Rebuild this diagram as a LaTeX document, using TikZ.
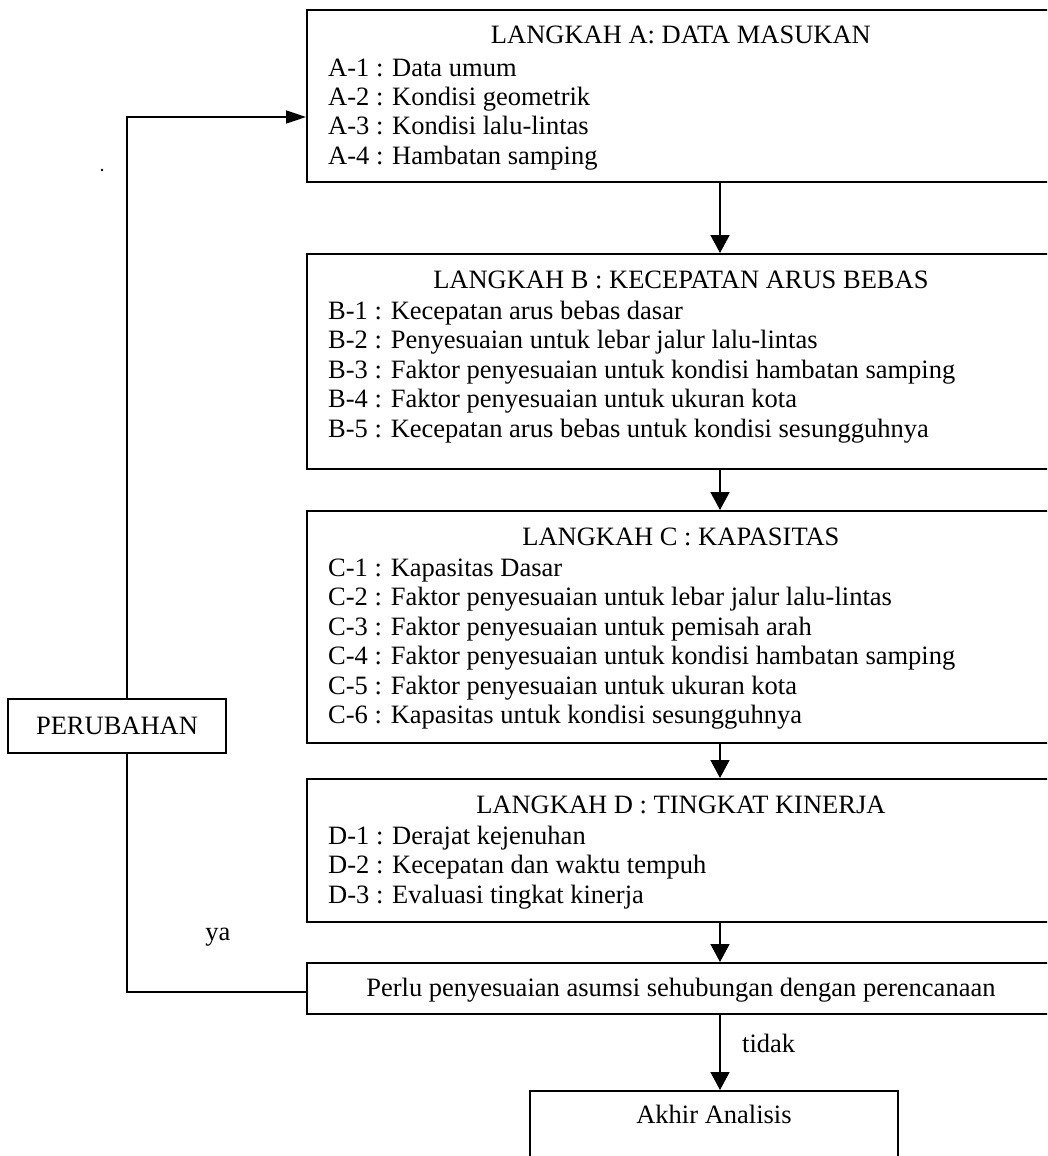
\documentclass[tikz,border=0pt]{standalone}
\usepackage{fontspec}
\setmainfont{Liberation Serif}
\usetikzlibrary{arrows.meta}
\begin{document}
\begin{tikzpicture}[x=1pt,y=-1pt,
  font=\fontsize{26.5}{29.5}\selectfont,
  stepbox/.style={draw, line width=1.8pt, anchor=north west, minimum width=748pt, inner sep=0pt},
  plainbox/.style={draw, line width=1.8pt, inner sep=0pt},
  heading/.style={anchor=base, inner sep=0pt},
  entry/.style={anchor=base west, inner sep=0pt},
  flow/.style={line width=1.6pt, -{Triangle[width=19pt,length=18pt]}},
  feedback/.style={line width=1.6pt, -{Triangle[width=13pt,length=20pt]}},
  loopline/.style={line width=1.6pt},
]
\useasboundingbox (0,0) rectangle (1047,1156);
\clip (0,0) rectangle (1047,1156);
\fill[white] (0,0) rectangle (1047,1156);

% guide positions for the connectors
\coordinate (colx) at (720,0);
\coordinate (loopx) at (127,0);
\coordinate (inrow) at (0,117);
\coordinate (yarow) at (0,992);

% LANGKAH A
\node[stepbox, minimum height=172pt] (A) at (306,9) {};
\node[heading] (At) at ([yshift=-35pt]A.north) {LANGKAH A: DATA MASUKAN};
\node[entry] (A1) at ([xshift=22pt,yshift=-67pt]A.north west) {A-1 : Data umum};
\node[entry] (A2) at ([xshift=22pt,yshift=-96pt]A.north west) {A-2 : Kondisi geometrik};
\node[entry] (A3) at ([xshift=22pt,yshift=-125.5pt]A.north west) {A-3 : Kondisi lalu-lintas};
\node[entry] (A4) at ([xshift=22pt,yshift=-155pt]A.north west) {A-4 : Hambatan samping};

% LANGKAH B
\node[stepbox, minimum height=215pt] (B) at (306,253) {};
\node[heading] (Bt) at ([yshift=-35pt]B.north) {LANGKAH B : KECEPATAN ARUS BEBAS};
\node[entry] (B1) at ([xshift=22pt,yshift=-66pt]B.north west) {B-1 : Kecepatan arus bebas dasar};
\node[entry] (B2) at ([xshift=22pt,yshift=-95.5pt]B.north west) {B-2 : Penyesuaian untuk lebar jalur lalu-lintas};
\node[entry] (B3) at ([xshift=22pt,yshift=-125pt]B.north west) {B-3 : Faktor penyesuaian untuk kondisi hambatan samping};
\node[entry] (B4) at ([xshift=22pt,yshift=-154.5pt]B.north west) {B-4 : Faktor penyesuaian untuk ukuran kota};
\node[entry] (B5) at ([xshift=22pt,yshift=-184pt]B.north west) {B-5 : Kecepatan arus bebas untuk kondisi sesungguhnya};

% LANGKAH C
\node[stepbox, minimum height=232pt] (C) at (306,510) {};
\node[heading] (Ct) at ([yshift=-35pt]C.north) {LANGKAH C : KAPASITAS};
\node[entry] (C1) at ([xshift=22pt,yshift=-66pt]C.north west) {C-1 : Kapasitas Dasar};
\node[entry] (C2) at ([xshift=22pt,yshift=-95.5pt]C.north west) {C-2 : Faktor penyesuaian untuk lebar jalur lalu-lintas};
\node[entry] (C3) at ([xshift=22pt,yshift=-125pt]C.north west) {C-3 : Faktor penyesuaian untuk pemisah arah};
\node[entry] (C4) at ([xshift=22pt,yshift=-154.5pt]C.north west) {C-4 : Faktor penyesuaian untuk kondisi hambatan samping};
\node[entry] (C5) at ([xshift=22pt,yshift=-184pt]C.north west) {C-5 : Faktor penyesuaian untuk ukuran kota};
\node[entry] (C6) at ([xshift=22pt,yshift=-213.5pt]C.north west) {C-6 : Kapasitas untuk kondisi sesungguhnya};

% LANGKAH D
\node[stepbox, minimum height=143pt] (D) at (306,778) {};
\node[heading] (Dt) at ([yshift=-35pt]D.north) {LANGKAH D : TINGKAT KINERJA};
\node[entry] (D1) at ([xshift=22pt,yshift=-66pt]D.north west) {D-1 : Derajat kejenuhan};
\node[entry] (D2) at ([xshift=22pt,yshift=-95.5pt]D.north west) {D-2 : Kecepatan dan waktu tempuh};
\node[entry] (D3) at ([xshift=22pt,yshift=-125pt]D.north west) {D-3 : Evaluasi tingkat kinerja};

% decision
\node[stepbox, minimum height=51pt] (dec) at (306,962) {};
\node[heading] (dect) at ([yshift=-34pt]dec.north) {Perlu penyesuaian asumsi sehubungan dengan perencanaan};

% end of analysis
\node[plainbox, anchor=north, minimum width=368pt, minimum height=80pt] (fin) at (714,1090) {};
\node[heading] (fint) at ([yshift=-33pt]fin.north) {Akhir Analisis};

% change box on the feedback loop
\node[plainbox, minimum width=218pt, minimum height=54pt] (chg) at (117,726) {PERUBAHAN};

% main flow
\draw[flow] (A.south -| colx) -- (B.north -| colx);
\draw[flow] (B.south -| colx) -- (C.north -| colx);
\draw[flow] (C.south -| colx) -- (D.north -| colx);
\draw[flow] (D.south -| colx) -- (dec.north -| colx);
\draw[flow] (dec.south -| colx) -- (fin.north -| colx);
\node[anchor=base west, inner sep=0pt] (tidak) at (742,1052) {tidak};

% feedback loop
\draw[loopline] (dec.west |- yarow) -| (loopx |- chg.south);
\draw[feedback] (loopx |- chg.north) |- (A.west |- inrow);
\node[anchor=base, inner sep=0pt] (ya) at (218,940) {ya};

\fill (102,170) circle (1.4pt);
\end{tikzpicture}
\end{document}
